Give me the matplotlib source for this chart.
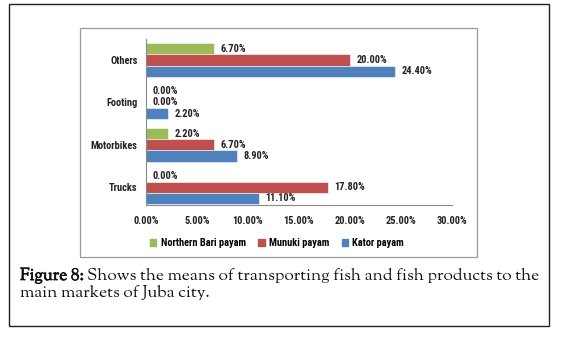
import matplotlib
matplotlib.use('Agg')
import matplotlib.pyplot as plt
import matplotlib.patheffects as pe
from matplotlib.patches import Rectangle
import numpy as np

# data, categories bottom to top
modes = ['Trucks', 'Motorbikes', 'Footing', 'Others']
northern_bari = [0.0, 2.2, 0.0, 6.7]
munuki = [17.8, 6.7, 0.0, 20.0]
kator = [11.1, 8.9, 2.2, 24.4]
series_names = ['Northern Bari payam', 'Munuki payam', 'Kator payam']
xticks = [0, 5, 10, 15, 20, 25, 30]

cgreen = '#9BBB59'
cred = '#C0504D'
cblue = '#4F81BD'
lblfont = ['Roboto Condensed', 'DejaVu Sans']
capfont = ['Sorts Mill Goudy', 'Liberation Serif']
fs = 7.5
cfs = 12.4

W, H = 562, 337
fig = plt.figure(figsize=(W/100, H/100), dpi=100)

def fx(px):
    return px/W

def fy(py):
    return 1 - py/H

# outer black frame and inner gray chart frame
fig.patches.append(Rectangle((fx(9), fy(326)), fx(540), 322/H, transform=fig.transFigure,
                             fill=False, edgecolor='#222222', lw=1.0))
fig.patches.append(Rectangle((fx(80), fy(257)), fx(397), 229/H, transform=fig.transFigure,
                             fill=False, edgecolor='#999999', lw=0.9))

ax = fig.add_axes([fx(146), fy(205), fx(452-146), (205-38.8)/H])
y = np.arange(len(modes))
h = 0.265
for vals, off, col in [(northern_bari, h, cgreen), (munuki, 0, cred), (kator, -h, cblue)]:
    bars = ax.barh(y+off, vals, height=h, color=col, edgecolor='white', lw=0.4)
    for yy, v in zip(y+off, vals):
        ax.annotate('%.2f%%' % v, (v, yy), xytext=(4.5, 0), textcoords='offset points',
                    va='center', ha='left', fontsize=fs, fontweight='bold',
                    family=lblfont, color='#222222')

ax.set_xlim(0, 30)
ax.set_ylim(-0.42, 3.5)
ax.set_xticks(xticks)
ax.set_xticklabels(['%.2f%%' % t for t in xticks], fontsize=fs, fontweight='bold', family=lblfont)
ax.set_yticks(y)
ax.set_yticklabels(modes, fontsize=fs, fontweight='bold', family=lblfont)
for s in ['top', 'right']:
    ax.spines[s].set_visible(False)
for s in ['left', 'bottom']:
    ax.spines[s].set_color('#888888')
    ax.spines[s].set_linewidth(0.8)
ax.tick_params(axis='y', length=0, pad=6, colors='#222222')
ax.tick_params(axis='x', length=0, pad=8, colors='#222222')

# legend drawn below the axes
handles = [Rectangle((0, 0), 1, 1, color=c) for c in [cgreen, cred, cblue]]
fig.legend(handles, series_names, loc='center', bbox_to_anchor=(fx(277), fy(243)), ncol=3,
           frameon=False, handlelength=0.6, handleheight=0.6, handletextpad=0.4,
           columnspacing=1.2, prop={'family': lblfont, 'weight': 'bold', 'size': fs})

# caption with bold lead-in (stroke fakes the bold face)
t1 = fig.text(fx(20), fy(280), 'Figure 8:', fontsize=cfs, fontweight='bold', family=capfont,
              ha='left', va='baseline', color='#111111',
              path_effects=[pe.withStroke(linewidth=0.5, foreground='#111111')])
fig.canvas.draw()
bb = t1.get_window_extent()
fig.text(fx(20) + (bb.width + 3)/W, fy(280),
         'Shows the means of transporting fish and fish products to the',
         fontsize=cfs, family=capfont, ha='left', va='baseline', color='#111111')
fig.text(fx(20), fy(297), 'main markets of Juba city.', fontsize=cfs, family=capfont,
         ha='left', va='baseline', color='#111111')

fig.savefig('out.png', dpi=100)
